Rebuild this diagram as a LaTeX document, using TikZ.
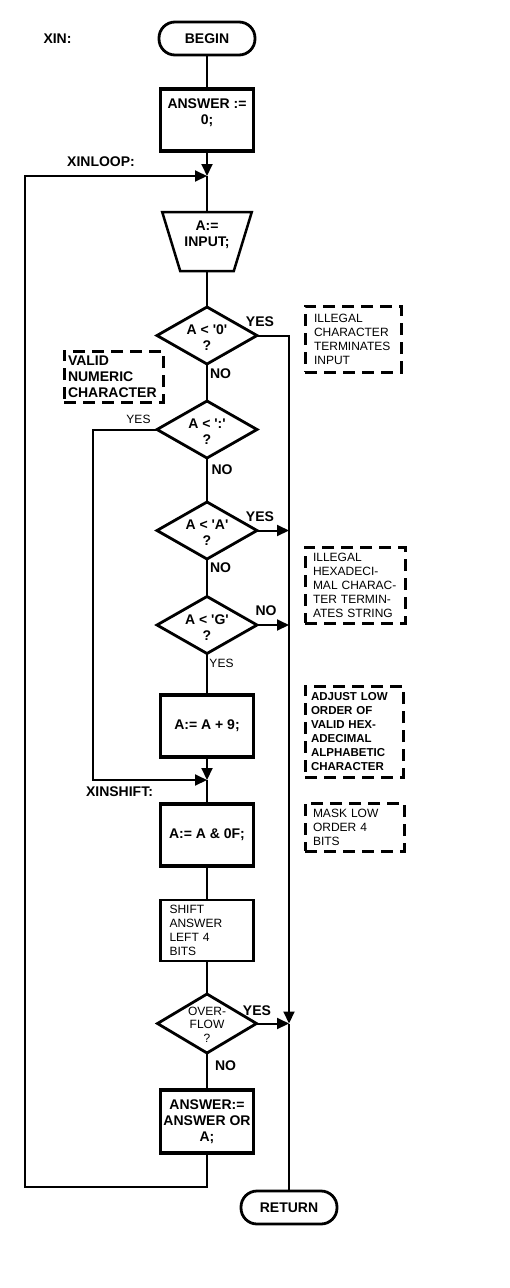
\documentclass[tikz,border=0pt]{standalone}
\usepackage{fontspec}
\setmainfont{Liberation Sans}
\usetikzlibrary{arrows.meta,shapes.geometric}
\newcommand{\dtxt}[2]{\raisebox{#1}[\height][\depth]{\begin{tabular}{@{}c@{}}#2\end{tabular}}}
\begin{document}
\begin{tikzpicture}[x=1pt,y=-1pt,
  every node/.style={inner sep=0pt, outer sep=0pt},
  bigf/.style={font=\fontsize{14}{16}\selectfont\bfseries},
  smallf/.style={font=\fontsize{12}{14}\selectfont},
  flow/.style={line width=2pt},
  arr/.style={flow, -{Triangle[length=12pt,width=11pt]}},
  term/.style={draw, line width=2.8pt, rectangle, rounded corners=16pt, minimum width=96pt, minimum height=33pt, bigf},
  proc/.style={draw, line width=3.5pt, minimum width=93pt, minimum height=62pt, align=center, bigf},
  dec/.style={draw, diamond, line width=2.8pt, minimum width=100pt, minimum height=57pt, aspect=1.75, inner sep=-6pt, bigf},
  inp/.style={draw, trapezium, shape border rotate=180, trapezium left angle=70, trapezium right angle=70, trapezium stretches=true, minimum width=90pt, minimum height=59pt, line width=2.5pt, align=center, bigf},
  note/.style={draw, line width=3pt, dash pattern=on 12pt off 7pt, align=left}
]
\useasboundingbox (0,0) rectangle (510,1288);

% terminals and labels
\node[term] (begin) at (207,38.5) {BEGIN};
\node[bigf] (xin) at (57.5,39) {XIN:};
\node[proc] (ans0) at (207,120) {ANSWER :=\\0;\\\mbox{}};
\node[bigf] (xinloop) at (101,162) {XINLOOP:};
\coordinate (jloop) at (207,176);
\node[inp] (inp) at (207,241.5) {A:=\\INPUT;\\\mbox{}};

% decisions
\node[dec] (d1) at (207,335.5) {\dtxt{-4pt}{A < \textquotesingle0\textquotesingle\\?}};
\node[dec] (d2) at (207,429.5) {\dtxt{-4pt}{A < \textquotesingle:\textquotesingle\\?}};
\node[dec] (d3) at (207,530.5) {\dtxt{-4pt}{A < \textquotesingle A\textquotesingle\\?}};
\node[dec] (d4) at (207,625) {\dtxt{-4pt}{A < \textquotesingle G\textquotesingle\\?}};

% branch labels
\node[bigf] (y1) at (260,322) {YES};
\node[bigf] (n1) at (220.5,374) {NO};
\node[smallf] (y2) at (138.5,419) {YES};
\node[bigf] (n2) at (222,470) {NO};
\node[bigf] (y3) at (260,517) {YES};
\node[bigf] (n3) at (220.5,568) {NO};
\node[bigf] (n4) at (266,611) {NO};
\node[smallf] (y4) at (221.5,663) {YES};
\node[bigf] (y5) at (257,1011) {YES};
\node[bigf] (n5) at (225.5,1066) {NO};
\node[bigf] (xinshift) at (119.5,792) {XINSHIFT:};

% process boxes
\node[proc] (add9) at (207,726) {A:= A + 9;};
\coordinate (jshift) at (207,780);
\node[proc] (mask) at (207,835) {A:= A \& 0F;};
\node[proc, line width=2.8pt, smallf, align=left, text width=75pt, minimum height=61pt] (shift) at (207,930.5) {SHIFT\\ANSWER\\LEFT 4\\BITS};
\node[dec, minimum width=99pt, minimum height=59pt, aspect=1.68, font=\fontsize{12}{13.5}\selectfont] (dov) at (207,1023.5) {\dtxt{-2.5pt}{OVER-\\FLOW\\?}};
\node[proc, minimum height=63pt] (ansor) at (207,1121.5) {ANSWER:=\\ANSWER OR\\A;};
\node[term] (ret) at (289,1207.5) {RETURN};

% comments
\node[note, bigf, text width=91pt, minimum width=99pt, minimum height=51pt] (cvalid) at (113.5,376.5) {VALID\\NUMERIC\\CHARACTER};
\node[note, smallf, text width=78pt, minimum width=96pt, minimum height=66pt] (cill) at (353,339) {ILLEGAL\\CHARACTER\\TERMINATES\\INPUT};
\node[note, smallf, text width=84pt, minimum width=100pt, minimum height=76pt] (chex) at (355,585) {ILLEGAL\\HEXADECI-\\MAL CHARAC-\\TER TERMIN-\\ATES STRING};
\node[note, font=\fontsize{11.5}{14}\selectfont\bfseries, text width=86pt, minimum width=98pt, minimum height=91pt] (cadj) at (354,731.5) {ADJUST LOW\\ORDER OF\\VALID HEX-\\ADECIMAL\\ALPHABETIC\\CHARACTER};
\node[note, smallf, text width=83pt, minimum width=99pt, minimum height=48pt] (cmask) at (354.5,827) {MASK LOW\\ORDER 4\\BITS};

% helper coordinates
\coordinate (rov) at (ret.north |- dov.east);
\coordinate (r3) at (ret.north |- d3.east);
\coordinate (r4) at (ret.north |- d4.east);
\coordinate (lft) at (93,780);
\coordinate (lb) at (25,1187);

% connectors
\draw[flow] (begin.south) -- (ans0.north);
\draw[arr] (ans0.south) -- (jloop);
\draw[flow] (jloop) -- (inp.north);
\draw[flow] (inp.south) -- (d1.north);
\draw[arr] (d1.east) -| (rov);
\draw[flow] (rov) -- (ret.north);
\draw[flow] (d1.south) -- (d2.north);
\draw[arr] (d2.west) -| (lft) -- (jshift);
\draw[flow] (d2.south) -- (d3.north);
\draw[arr] (d3.east) -- (r3);
\draw[flow] (d3.south) -- (d4.north);
\draw[arr] (d4.east) -- (r4);
\draw[flow] (d4.south) -- (add9.north);
\draw[arr] (add9.south) -- (jshift);
\draw[flow] (jshift) -- (mask.north);
\draw[flow] (mask.south) -- (shift.north);
\draw[flow] (shift.south) -- (dov.north);
\draw[arr] (dov.east) -- (rov);
\draw[flow] (dov.south) -- (ansor.north);
\draw[arr] (ansor.south) |- (lb) |- (jloop);
\end{tikzpicture}
\end{document}
